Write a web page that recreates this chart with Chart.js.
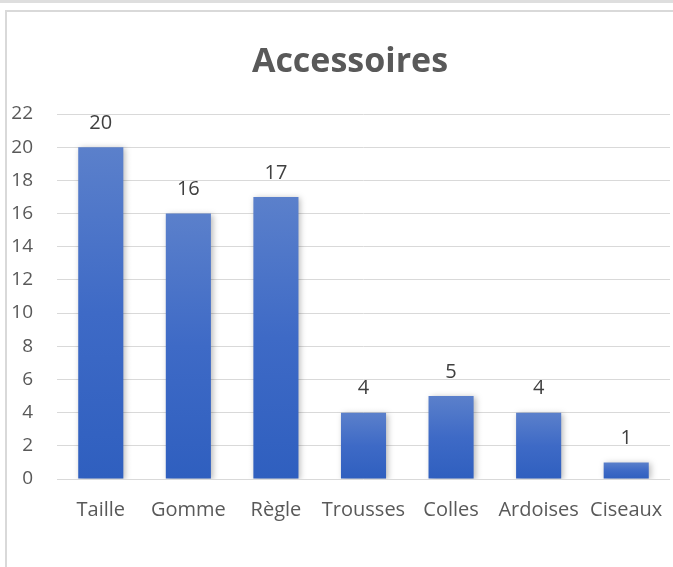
<!DOCTYPE html>
<html lang="fr">
<head>
    <meta charset="UTF-8"/>
    <title>Accessoires</title>
    <script src="https://cdn.jsdelivr.net/npm/chart.js"></script>
    <style>
        body { margin: 0; background: #fff; overflow: hidden; }
        #myChart { display: block; }
    </style>
</head>
<body>
    <canvas id="myChart" width="673" height="567"></canvas>
    <script>
        var categories = ['Taille', 'Gomme', 'Règle', 'Trousses', 'Colles', 'Ardoises', 'Ciseaux'];
        var valeurs = [20, 16, 17, 4, 5, 4, 1];
        var yTicks = [0, 2, 4, 6, 8, 10, 12, 14, 16, 18, 20, 22];
        var titre = 'Accessoires';

        // cadre gris + titre
        var cadre = {
            id: 'cadre',
            beforeDraw: function(chart) {
                var ctx = chart.ctx;
                ctx.save();
                ctx.fillStyle = '#fff';
                ctx.fillRect(0, 0, chart.width, chart.height);
                ctx.fillStyle = '#dedede';
                ctx.fillRect(0, 0, chart.width, 3);
                ctx.strokeStyle = '#d9d9d9';
                ctx.lineWidth = 2;
                ctx.strokeRect(6, 11, 1000, 1000);
                ctx.restore();
            },
            afterDraw: function(chart) {
                var ctx = chart.ctx;
                ctx.save();
                ctx.font = 'bold 34px "Open Sans"';
                ctx.fillStyle = '#595959';
                ctx.textAlign = 'center';
                ctx.textBaseline = 'alphabetic';
                ctx.fillText(titre, 350, 72);
                ctx.restore();
            }
        };

        // ombre des barres + etiquettes de valeur
        var ombre = {
            id: 'ombre',
            beforeDatasetsDraw: function(chart) {
                var ctx = chart.ctx;
                ctx.save();
                ctx.shadowColor = 'rgba(0,0,0,0.28)';
                ctx.shadowBlur = 6;
                ctx.shadowOffsetX = 2;
                ctx.shadowOffsetY = 1;
            },
            afterDatasetsDraw: function(chart) {
                var ctx = chart.ctx;
                ctx.restore();
                ctx.save();
                ctx.font = '20px "Open Sans"';
                ctx.fillStyle = '#404040';
                ctx.textAlign = 'center';
                ctx.textBaseline = 'middle';
                chart.getDatasetMeta(0).data.forEach(function(bar, i) {
                    ctx.fillText(valeurs[i], bar.x, bar.y - 24);
                });
                ctx.restore();
            }
        };

        function degrade(context) {
            var chart = context.chart;
            if (!chart.chartArea || context.parsed === undefined) return '#4472c4';
            var y = chart.scales.y;
            var haut = y.getPixelForValue(context.parsed.y);
            var bas = y.getPixelForValue(0);
            var g = chart.ctx.createLinearGradient(0, haut, 0, bas);
            g.addColorStop(0, '#5b80cb');
            g.addColorStop(0.5, '#3e6ac6');
            g.addColorStop(1, '#2f5fbf');
            return g;
        }

        var ctx = document.getElementById('myChart').getContext('2d');
        var myChart = new Chart(ctx, {
            type: 'bar',
            data: {
                labels: categories,
                datasets: [{
                    label: titre,
                    data: valeurs,
                    backgroundColor: degrade,
                    barPercentage: 0.515,
                    categoryPercentage: 1
                }]
            },
            options: {
                responsive: false,
                animation: false,
                layout: { padding: { left: 0, right: 3, top: 114, bottom: 0 } },
                plugins: {
                    legend: { display: false },
                    tooltip: { enabled: false },
                    title: { display: false }
                },
                scales: {
                    x: {
                        grid: { display: false, drawTicks: false },
                        border: { display: false },
                        ticks: {
                            color: '#595959',
                            font: { family: '"Open Sans"', size: 20 },
                            padding: 19,
                            maxRotation: 0,
                            minRotation: 0,
                            autoSkip: false
                        },
                        afterFit: function(scale) {
                            scale.height = 88;
                            scale.paddingLeft = 0;
                            scale.paddingRight = 0;
                        }
                    },
                    y: {
                        min: 0,
                        max: 22,
                        afterBuildTicks: function(scale) {
                            scale.ticks = yTicks.map(function(v) { return { value: v }; });
                        },
                        grid: { color: '#d9d9d9', lineWidth: 1, drawTicks: false },
                        border: { display: false },
                        ticks: {
                            color: '#595959',
                            font: { family: '"Open Sans"', size: 19 },
                            padding: 24
                        },
                        afterFit: function(scale) {
                            scale.width = 57;
                            scale.paddingTop = 0;
                            scale.paddingBottom = 0;
                        }
                    }
                }
            },
            plugins: [cadre, ombre]
        });
    </script>
</body>
</html>
